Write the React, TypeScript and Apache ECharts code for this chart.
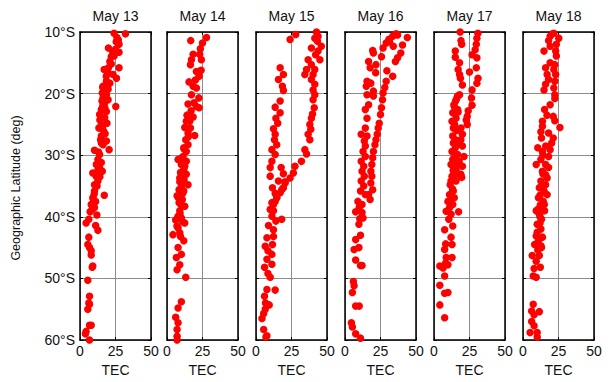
import React, { useEffect, useRef } from "react";
import * as echarts from "echarts";

const days = ["May 13", "May 14", "May 15", "May 16", "May 17", "May 18"];
const xTicks = [0, 25, 50];
const latTicks = [10, 20, 30, 40, 50, 60];
const yTitle = "Geographic Latitude (deg)";

const may13: number[][] = [[24,10.2],[32,10.3],[26,10.9],[27,11.3],[25.5,11.6],[27.5,12],[20,12.6],[25,12.8],[23,13.2],[27.5,13.3],[24,13.9],[21,14.8],[22,15.2],[17,16.1],[27.5,15.8],[19.8,16.6],[23.3,16.9],[25.7,17.5],[18.6,18],[21,18.3],[16.2,18.8],[19.8,19.3],[15.7,19.9],[18.6,20.2],[16.2,20.7],[19.8,21],[17.4,21.5],[25.2,22.1],[15,22.6],[18.6,22.9],[13.8,23.4],[17.4,23.9],[15,25],[19,24.8],[13.3,25.6],[16.7,26.1],[15,26.9],[18.6,27.7],[16.2,28.3],[20.5,29.1],[10.2,29.2],[13.8,29.9],[12.6,30.7],[15,31.2],[13.8,32],[9,32.9],[15.7,32.6],[11.4,33.4],[12.6,34.2],[10.2,34.8],[17.1,36.5],[10.2,35.8],[9,36.9],[11,37.5],[7.9,38],[10.2,38.5],[7.1,39.2],[11.9,39.7],[6.2,40.4],[4.3,41],[11,41.4],[12.6,42.2],[6.2,43.3],[5.5,44.5],[6.7,45],[7.9,45.5],[7.9,46.2],[9,48],[8.6,48.2],[5.5,50.3],[6.7,52.9],[6.2,54],[6.7,54.2],[5.5,55],[6.7,57.6],[7.9,57.6],[4.3,58.6],[3.8,59],[6.7,60],[16,19],[18,19.6],[17,20.5],[15.5,21.2],[16,22],[17.5,22.3],[14,24.3],[16,25.3],[17.7,26.5],[14.5,27.5],[15,28],[13,29.5],[11.5,31.5],[14,33.5],[12,35],[9.5,37.2],[22,14],[20,15.8],[18.5,17.2],[19,18.5],[12.5,32.5],[10,36.3],[8.5,38.8]];

const may14: number[][] = [[16.7,11.4],[27.8,10.9],[25,11.8],[23.5,12.7],[18.4,13.6],[23,13.6],[17.2,14.5],[24.2,14.5],[16.5,15.3],[20.7,16.4],[22.6,17.2],[15.5,18.1],[18.4,18.8],[20.7,19.1],[17.2,20.2],[22.4,20.7],[14.8,21.7],[20.7,22.1],[22.6,22.3],[14.1,23.5],[18.4,23.8],[13.6,24.5],[12.5,25.5],[16.5,25.6],[19.5,26.8],[14.8,26.4],[13.2,27.5],[14.8,28.3],[11.8,28.8],[13.6,29.4],[11.3,30.2],[7.8,30.7],[13.6,31],[10.1,31.5],[11.8,32.3],[13.6,33.1],[9,33.7],[11.3,34.5],[14.8,34.8],[8.5,35.6],[11.8,35.8],[7.1,36.6],[10.8,37.2],[8.5,37.7],[12.5,38.3],[9,39],[7.8,39.9],[10.1,40.2],[6.1,40.5],[12.5,41],[7.8,41.8],[4.2,42.9],[9,42.6],[11.8,43.9],[7.8,45],[10.1,46.1],[6.6,46.6],[9,47.8],[7.1,48.6],[13.2,49.8],[10.1,53.8],[7.8,54.8],[6.1,56.3],[7.8,57.2],[7.1,58.3],[7.1,59.4],[7.1,60],[12,29],[10,30.5],[12.5,31.8],[9.5,32.8],[11,33.3],[12,34],[9,34.3],[10,35.2],[11,36.2],[8,36.9],[10,38],[9.2,39.5],[11,40.8],[7,41.5],[9.5,43.2],[15,27],[16,24.5],[17,22.8],[19,21.5],[20,17.8],[24,16.2]];

const may15: number[][] = [[42.6,10],[43.7,10.7],[41.4,11],[43.3,11.5],[39,12.6],[46,12.3],[43.7,13.1],[42,13.7],[45,14.5],[36.7,14.5],[39,15.3],[35.6,16.1],[41.4,16.1],[34.4,16.9],[40.2,16.9],[39,17.7],[41.4,18.5],[40.2,19.4],[41.4,20.2],[40.2,21],[41,22.3],[39.8,23.3],[39,24],[37.9,25],[38.6,25.8],[36.7,26.6],[37.9,27.5],[34.4,29.1],[35.6,29.8],[32,31],[27.4,31.8],[26.3,32.9],[24,33.7],[20.5,34.5],[19.3,35.3],[17,36.1],[14.6,36.9],[13.5,37.5],[12.3,38],[18.1,40.4],[28,10.4],[24,11.2],[17,15.8],[19.3,16.9],[15.8,17.7],[18.6,18.8],[19.3,19.5],[17,21.2],[13.5,22.2],[17,23.1],[14,24],[15.3,24.8],[12.3,25.7],[13.5,26.6],[13,27.5],[14.6,28.3],[11.2,29.1],[13.5,29.9],[11.2,31],[10,32],[17.7,32],[10,33.4],[19.3,33],[15.8,34.2],[20.5,34.3],[11.6,35.3],[18.1,35.6],[13.5,36.2],[14.6,36.9],[11.2,37.7],[10,38.8],[12.3,39],[11.2,39.9],[14,40.7],[8.8,41.4],[12.3,42.1],[7.7,43.4],[12.3,43.2],[6.5,44.8],[11.6,44.5],[8.4,45.5],[11.2,46.1],[7.7,46.9],[6,48.2],[11.2,47.7],[8.4,49.2],[10,49.8],[7.7,51.8],[13.5,51.9],[6,52.9],[6.7,54],[9.3,54.3],[6.5,55],[5.4,55.7],[4.2,56.5],[5.4,58.3],[7,59.5],[7.7,59.3]];

const may16: number[][] = [[36,10.3],[33.6,10.7],[43.9,10.9],[30.9,11.2],[29,11.8],[40.5,12.1],[26.8,12.6],[39.3,13.4],[37,14.2],[25.7,14],[35.5,14.8],[29.5,16.3],[33.6,17.2],[29,18],[28,19],[26.8,19.9],[26.4,21],[25.7,22.3],[25,23.4],[24.1,24.8],[23.4,25.6],[22.7,26.6],[21.8,27.5],[21.1,28.3],[20,29.4],[19.5,30.4],[18.9,31.5],[18.2,32.6],[18.9,33.4],[18.2,34.5],[19.5,35.6],[16.6,36.4],[17.7,37.2],[37,10.5],[31.4,11.6],[34,12.3],[19.5,13],[20,13.4],[16.6,14.8],[21.8,15.3],[17.7,15.8],[21.6,16.6],[15.5,18],[18.2,18.3],[15,18.8],[20,19.6],[15.5,20.2],[20,20.4],[16.6,21.8],[14.3,22.6],[15.5,24],[14.3,25.6],[11.4,26.6],[15.5,26.9],[13.6,27.7],[14.3,28.5],[12.7,29.4],[14.3,30.2],[11.4,31],[13.2,31.8],[12,32.6],[13.6,33.4],[11.4,34.2],[13.2,35],[10.9,35.8],[14.3,36.4],[9.1,37.5],[12,38],[10,38.5],[7.5,39.2],[12,39.3],[10.4,40.3],[12.7,40.2],[9.8,41.2],[10.9,43],[7.5,43.7],[9.8,45],[6.4,45.3],[7.5,47],[10.9,47.9],[12,47.9],[5.9,50.5],[6.4,51.2],[5.2,52.3],[7.5,54.5],[10,54.5],[4.5,57.2],[5.2,57.9],[7.5,59],[10.9,59.7]];

const may17: number[][] = [[30.9,10.2],[30.2,11],[29.8,12],[29,12.9],[26.8,13.7],[30.2,14.2],[25,16.5],[29.8,15.8],[31,17.5],[30.2,18.3],[26.8,19.4],[26.4,20.7],[26.8,21.9],[24.1,22.8],[23.4,23.7],[22.7,24.3],[23.4,25],[18.4,10],[19,11.4],[19.5,12],[15,13.1],[15,14.1],[18,15],[17,16.1],[18,16.9],[18.6,17.5],[20,18.6],[18,20.2],[16.6,20.4],[15.2,21.2],[14.3,22.1],[16.6,22.6],[13.2,23.1],[15.5,24],[19,25.6],[12.7,24.5],[13.6,25.6],[20,26.6],[13.2,26.9],[18.9,27.5],[13.6,28],[20,28.5],[15,28.8],[12.7,29.4],[16.6,29.9],[21.1,30.2],[13.2,30.7],[17.7,31],[12,31.5],[20,31.8],[15.5,32.3],[18.9,33.1],[12.7,33.4],[12,34.2],[15.5,34.2],[19.5,33.6],[11.4,34.8],[13.6,35.8],[10.9,36.4],[14.3,36.9],[9.8,37.5],[13.2,38],[8.6,39.1],[17.3,39.2],[12,39.6],[10.4,40.4],[13.2,41.5],[7.5,42.1],[12,43.3],[8.2,44.4],[12.7,44.5],[7.5,45.3],[8.6,46.6],[12.7,46.6],[8.2,47.5],[4.1,48],[9.8,47.8],[6.4,48.3],[7.5,49.6],[4.1,51.1],[7.5,52.4],[9.8,52.3],[4.1,54.3],[7.5,56.4],[16,20.8],[14,21.8],[17,23],[14.5,25],[16,26],[15,27.5],[17,28.2],[14,30.5],[16,31.5],[13.5,32.5],[17,33],[14,33.8],[13,35.5],[12,37],[11,38.5]];

const may18: number[][] = [[20.9,10.3],[21.7,10.2],[19.1,10.7],[25.2,11],[18,11.4],[23.5,12],[19.1,12.3],[14.8,13.1],[23,13.1],[23.5,13.9],[19.1,15],[22.4,15.3],[15.9,15.8],[21.7,16.1],[17,16.9],[23,16.9],[18,17.7],[22.4,18],[15.9,18.5],[21.7,19.1],[14.8,19.4],[22.4,20.2],[22.4,20.8],[19.1,21.8],[15.2,22.6],[16.9,23.5],[21.3,23.7],[13.7,24.5],[22.4,24.4],[26,25.5],[13.7,25.3],[12.6,26.2],[18,26.4],[13,27.2],[21.3,27.2],[20.2,28],[10.4,28.8],[13.7,29.4],[19.1,29.1],[18,30.2],[12.6,30.7],[9.3,31.5],[15.9,31.5],[18,32],[13.7,32.6],[17,33.7],[12.6,34.2],[15.9,34.8],[11.5,35.3],[14.8,35.8],[17,36.4],[10.9,36.9],[14.3,37.5],[12.2,38.1],[9.3,39],[15.2,39],[11.5,39.6],[13,40.4],[10,41.2],[12.6,42],[9.3,43.1],[13.7,43.3],[8.2,44.5],[12.6,44.7],[10.4,45.4],[6.5,46.3],[11.5,46.3],[9.3,47.2],[12.2,48.2],[7.8,48.4],[7.2,49.6],[9.3,49.8],[7.2,54.2],[6.1,55.3],[11.5,55.4],[7.8,55.9],[6.1,57],[7.8,57.7],[5,58.8],[10,58.8],[10,59.5],[14,33],[16,33.2],[13,35],[12,36.5],[15,38],[11,38.7],[12,41],[10,42.5],[14,30],[16,28.5],[12,40],[13,45],[11,43.8]];

const seriesData = [may13, may14, may15, may16, may17, may18];

const FONT = "Liberation Sans, Arial, sans-serif";

export default function App() {
  const ref = useRef<HTMLDivElement>(null);
  useEffect(() => {
    if (!ref.current) return;
    const chart = echarts.init(ref.current, null, { renderer: "svg" });
    const lefts = [80, 167, 256, 345, 434, 523];
    const W = 71;
    const top = 32;
    const H = 309;
    const grids: any[] = [];
    const xAxes: any[] = [];
    const yAxes: any[] = [];
    const series: any[] = [];
    const graphics: any[] = [];
    const frameLine = { show: true, onZero: false, lineStyle: { color: "#000", width: 1.5 } };
    lefts.forEach((l, i) => {
      grids.push({ left: l, top, width: W, height: H });
      xAxes.push({
        type: "value", gridIndex: i, min: xTicks[0], max: xTicks[2], interval: 25, position: "bottom",
        axisLine: frameLine,
        axisTick: { show: true, inside: true, length: 3, lineStyle: { color: "#000" } },
        axisLabel: { show: true, color: "#111", fontSize: 14, fontFamily: FONT, margin: 4 },
        splitLine: { show: true, lineStyle: { color: "#8c8c8c", width: 1 } },
        name: "TEC", nameLocation: "middle", nameGap: 23,
        nameTextStyle: { color: "#111", fontSize: 14, fontFamily: FONT },
      });
      xAxes.push({
        type: "value", gridIndex: i, min: 0, max: 50, interval: 25, position: "top",
        axisLine: frameLine,
        axisTick: { show: true, inside: true, length: 3, lineStyle: { color: "#000" } },
        axisLabel: { show: false }, splitLine: { show: false },
      });
      yAxes.push({
        type: "value", gridIndex: i, min: latTicks[0], max: latTicks[5], interval: 10, inverse: true, position: "left",
        axisLine: frameLine,
        axisTick: { show: true, inside: true, length: 3, lineStyle: { color: "#000" } },
        axisLabel: {
          show: i === 0, color: "#111", fontSize: 14, fontFamily: FONT, margin: 5,
          formatter: (v: number) => `${v}°S`,
        },
        splitLine: { show: true, lineStyle: { color: "#8c8c8c", width: 1 } },
      });
      yAxes.push({
        type: "value", gridIndex: i, min: 10, max: 60, interval: 10, inverse: true, position: "right",
        axisLine: frameLine,
        axisTick: { show: true, inside: true, length: 3, lineStyle: { color: "#000" } },
        axisLabel: { show: false }, splitLine: { show: false },
      });
      series.push({
        type: "scatter", xAxisIndex: i * 2, yAxisIndex: i * 2, data: seriesData[i],
        symbol: "circle", symbolSize: 7.5, itemStyle: { color: "#ff0000", opacity: 1 },
      });
      graphics.push({
        type: "text", x: l + W / 2, y: 9,
        style: { text: days[i], fill: "#111", fontSize: 14, fontFamily: FONT, textAlign: "center", textVerticalAlign: "top" },
      });
    });
    graphics.push({
      type: "text", x: 16, y: 188, rotation: Math.PI / 2,
      style: { text: yTitle, fill: "#111", fontSize: 12.5, fontFamily: FONT, textAlign: "center", textVerticalAlign: "middle" },
    });
    chart.setOption({
      animation: false,
      backgroundColor: "#fff",
      grid: grids,
      xAxis: xAxes,
      yAxis: yAxes,
      series,
      graphic: graphics,
    });
    return () => chart.dispose();
  }, []);
  return <div ref={ref} style={{ position: "fixed", left: 0, top: 0, width: 609, height: 382 }} />;
}
